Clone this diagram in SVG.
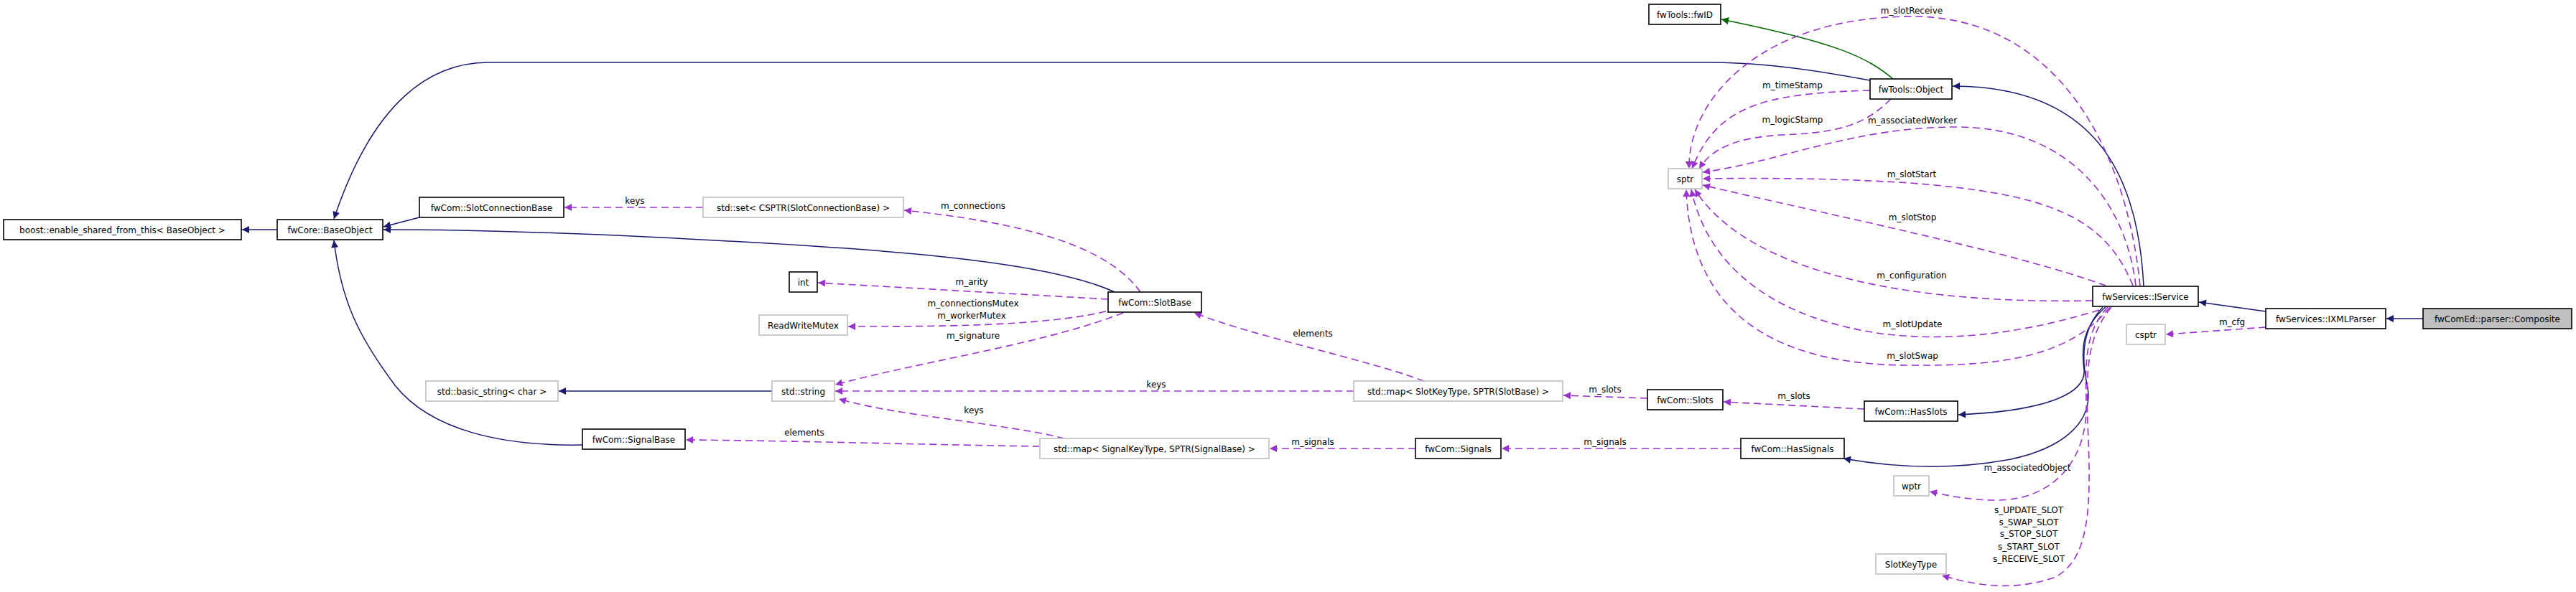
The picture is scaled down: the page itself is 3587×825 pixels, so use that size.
<svg xmlns="http://www.w3.org/2000/svg" width="3587" height="825" viewBox="0 0 3587 825">
<defs>
<style>
.n rect{fill:#fff;stroke:#000;stroke-width:1.6}
.n.u rect{stroke:#bfbfbf}
.n.g rect{fill:#bfbfbf}
text{font-family:"DejaVu Sans","Liberation Sans",sans-serif;font-size:12px;fill:#000;text-anchor:middle}
.e path{fill:none}
.inh{stroke:#191970;stroke-width:1.5;marker-end:url(#ab)}
.use{stroke:#9a32cd;stroke-width:1.6;stroke-dasharray:10,6;marker-end:url(#ap)}
.grn{stroke:#006400;stroke-width:1.5;marker-end:url(#ag)}
</style>
<marker id="ab" viewBox="0 0 10 10" refX="10" refY="5" markerWidth="15" markerHeight="10" markerUnits="userSpaceOnUse" orient="auto"><path d="M0,0L10,5L0,10z" fill="#191970"/></marker>
<marker id="ap" viewBox="0 0 10 10" refX="10" refY="5" markerWidth="15" markerHeight="10" markerUnits="userSpaceOnUse" orient="auto"><path d="M0,0L10,5L0,10z" fill="#9a32cd"/></marker>
<marker id="ag" viewBox="0 0 10 10" refX="10" refY="5" markerWidth="15" markerHeight="10" markerUnits="userSpaceOnUse" orient="auto"><path d="M0,0L10,5L0,10z" fill="#006400"/></marker>
</defs>
<rect width="3587" height="825" fill="#fff"/>
<g id="edges" class="e">
<path class="inh" d="M386,320L337,320"/>
<path class="inh" d="M584,303L534,316"/>
<path class="inh" d="M2604,112C2520,96 2450,87 2383,87L680,87C600,87 520,140 465,305"/>
<path class="inh" d="M1552,407C1450,360 1200,345 900,330C750,323 620,320 534,320"/>
<path class="inh" d="M811,620C700,622 600,600 550,537C500,470 475,420 465,335"/>
<path class="use" d="M979,289L786,289"/>
<path class="use" d="M1588,407C1540,340 1420,310 1259,293"/>
<path class="use" d="M1543,417L1139,394"/>
<path class="use" d="M1540,434C1450,455 1300,455 1181,455"/>
<path class="use" d="M1564,436C1450,480 1300,500 1163,536"/>
<path class="inh" d="M1075,545L778,545"/>
<path class="use" d="M1885,545L1163,545"/>
<path class="use" d="M1482,611C1400,590 1250,580 1168,556"/>
<path class="use" d="M1448,622C1300,620 1100,614 955,613"/>
<path class="use" d="M1983,531C1900,500 1750,470 1663,436"/>
<path class="use" d="M2294,555L2177,551"/>
<path class="use" d="M2596,570L2400,560"/>
<path class="use" d="M1971,625L1768,625"/>
<path class="use" d="M2424,625L2091,625"/>
<path class="inh" d="M2928,428C2898,460 2898,500 2907,540C2915,590 2870,625 2800,640C2720,655 2640,652 2567,639"/>
<path class="inh" d="M2932,428C2900,455 2898,485 2902,515C2905,545 2860,572 2727,578"/>
<path class="inh" d="M3155,434L3062,421"/>
<path class="inh" d="M3374,444L3323,444"/>
<path class="use" d="M3155,456L3016,466"/>
<path class="inh" d="M2985,399C2978,260 2930,120 2719,120"/>
<path class="grn" d="M2636,110C2600,80 2560,60 2397,27"/>
<path class="use" d="M2604,126C2450,130 2390,150 2356,235"/>
<path class="use" d="M2633,138C2600,170 2570,185 2480,188C2420,192 2385,205 2366,235"/>
<path class="use" d="M2980,398C2960,200 2860,23 2663,23C2450,23 2350,140 2352,235"/>
<path class="use" d="M2974,398C2960,280 2880,177 2724,177C2580,177 2480,225 2371,240"/>
<path class="use" d="M2970,398C2930,300 2850,270 2660,255C2550,248 2450,248 2371,249"/>
<path class="use" d="M2932,398C2800,350 2550,300 2371,258"/>
<path class="use" d="M2914,419C2600,425 2420,360 2360,264"/>
<path class="use" d="M2923,432C2800,470 2700,475 2620,465C2480,445 2380,380 2355,264"/>
<path class="use" d="M2938,428C2880,500 2780,510 2660,509C2520,509 2355,470 2348,264"/>
<path class="use" d="M2935,428C2905,460 2903,500 2905,560C2908,640 2860,697 2780,697C2740,697 2710,690 2687,685"/>
<path class="use" d="M2940,428C2905,470 2905,520 2907,590C2912,700 2912,780 2860,805C2800,825 2750,815 2704,802"/>
</g>
<g id="labels">
<text x="884" y="284">keys</text>
<text x="1355" y="291">m_connections</text>
<text x="1353" y="397">m_arity</text>
<text x="1355" y="427">m_connectionsMutex</text>
<text x="1353" y="444">m_workerMutex</text>
<text x="1355" y="472">m_signature</text>
<text x="1610" y="540">keys</text>
<text x="1356" y="576">keys</text>
<text x="1120" y="607">elements</text>
<text x="1828" y="469">elements</text>
<text x="2235" y="547">m_slots</text>
<text x="2498" y="556">m_slots</text>
<text x="1828" y="620">m_signals</text>
<text x="2235" y="620">m_signals</text>
<text x="3108" y="453">m_cfg</text>
<text x="2496" y="123">m_timeStamp</text>
<text x="2496" y="171">m_logicStamp</text>
<text x="2662" y="19">m_slotReceive</text>
<text x="2663" y="172">m_associatedWorker</text>
<text x="2662" y="247">m_slotStart</text>
<text x="2663" y="307">m_slotStop</text>
<text x="2662" y="388">m_configuration</text>
<text x="2663" y="456">m_slotUpdate</text>
<text x="2663" y="500">m_slotSwap</text>
<text x="2823" y="656">m_associatedObject</text>
<text x="2825" y="715">s_UPDATE_SLOT</text>
<text x="2825" y="732">s_SWAP_SLOT</text>
<text x="2825" y="748">s_STOP_SLOT</text>
<text x="2825" y="766">s_START_SLOT</text>
<text x="2825" y="783">s_RECEIVE_SLOT</text>
</g>
<g id="boost" class="n"><rect x="5" y="306" width="331" height="28"/><text x="170.5" y="324.5">boost::enable_shared_from_this&lt; BaseObject &gt;</text></g>
<g id="BaseObject" class="n"><rect x="386" y="306" width="147" height="28"/><text x="459.5" y="324.5">fwCore::BaseObject</text></g>
<g id="SlotConnectionBase" class="n"><rect x="584" y="275" width="201" height="28"/><text x="684.5" y="293.5">fwCom::SlotConnectionBase</text></g>
<g id="setSlotConnection" class="n u"><rect x="979" y="275" width="279" height="28"/><text x="1118.5" y="293.5">std::set&lt; CSPTR(SlotConnectionBase) &gt;</text></g>
<g id="int" class="n"><rect x="1099" y="379" width="39" height="28"/><text x="1118.5" y="397.5">int</text></g>
<g id="SlotBase" class="n"><rect x="1543" y="407" width="130" height="28"/><text x="1608" y="425.5">fwCom::SlotBase</text></g>
<g id="ReadWriteMutex" class="n u"><rect x="1057" y="439" width="123" height="28"/><text x="1118.5" y="457.5">ReadWriteMutex</text></g>
<g id="basic_string" class="n u"><rect x="593" y="531" width="184" height="28"/><text x="685" y="549.5">std::basic_string&lt; char &gt;</text></g>
<g id="string" class="n u"><rect x="1075" y="531" width="87" height="28"/><text x="1118.5" y="549.5">std::string</text></g>
<g id="SignalBase" class="n"><rect x="811" y="598" width="143" height="28"/><text x="882.5" y="616.5">fwCom::SignalBase</text></g>
<g id="mapSignal" class="n u"><rect x="1448" y="611" width="319" height="28"/><text x="1607.5" y="629.5">std::map&lt; SignalKeyType, SPTR(SignalBase) &gt;</text></g>
<g id="mapSlot" class="n u"><rect x="1885" y="531" width="291" height="28"/><text x="2030.5" y="549.5">std::map&lt; SlotKeyType, SPTR(SlotBase) &gt;</text></g>
<g id="Slots" class="n"><rect x="2294" y="543" width="105" height="28"/><text x="2346.5" y="561.5">fwCom::Slots</text></g>
<g id="HasSlots" class="n"><rect x="2596" y="559" width="130" height="28"/><text x="2661" y="577.5">fwCom::HasSlots</text></g>
<g id="Signals" class="n"><rect x="1971" y="611" width="119" height="28"/><text x="2030.5" y="629.5">fwCom::Signals</text></g>
<g id="HasSignals" class="n"><rect x="2424" y="611" width="144" height="28"/><text x="2496" y="629.5">fwCom::HasSignals</text></g>
<g id="wptr" class="n u"><rect x="2637" y="663" width="49" height="28"/><text x="2661.5" y="681.5">wptr</text></g>
<g id="fwID" class="n"><rect x="2296" y="6" width="100" height="28"/><text x="2346" y="24.5">fwTools::fwID</text></g>
<g id="Object" class="n"><rect x="2604" y="110" width="114" height="28"/><text x="2661" y="128.5">fwTools::Object</text></g>
<g id="sptr" class="n u"><rect x="2323" y="235" width="47" height="28"/><text x="2346.5" y="253.5">sptr</text></g>
<g id="IService" class="n"><rect x="2914" y="399" width="147" height="28"/><text x="2987.5" y="417.5">fwServices::IService</text></g>
<g id="csptr" class="n u"><rect x="2961" y="452" width="54" height="28"/><text x="2988" y="470.5">csptr</text></g>
<g id="IXMLParser" class="n"><rect x="3155" y="430" width="167" height="28"/><text x="3238.5" y="448.5">fwServices::IXMLParser</text></g>
<g id="Composite" class="n g"><rect x="3374" y="430" width="207" height="28"/><text x="3477.5" y="448.5">fwComEd::parser::Composite</text></g>
<g id="SlotKeyType" class="n u"><rect x="2612" y="772" width="98" height="28"/><text x="2661" y="790.5">SlotKeyType</text></g>
</svg>
